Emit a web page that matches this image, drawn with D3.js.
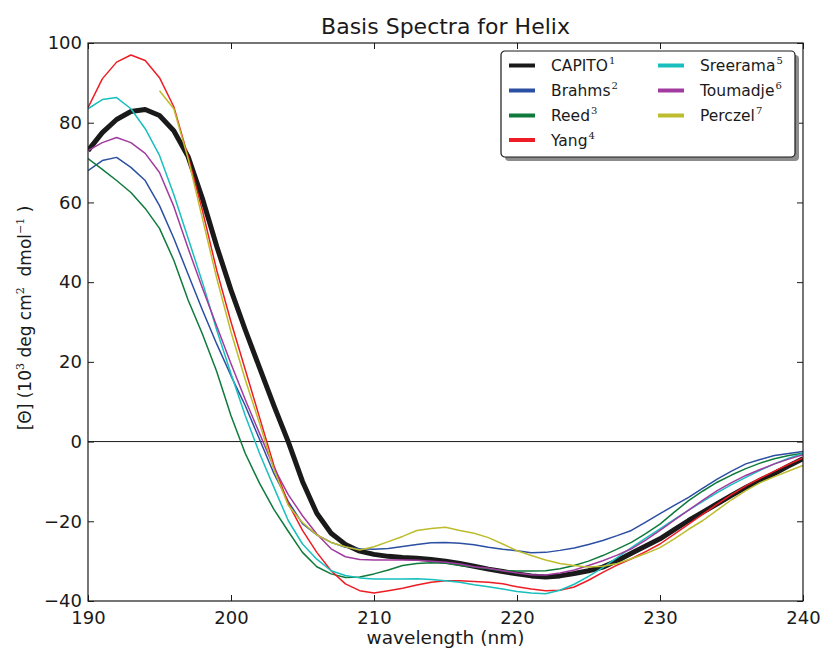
<!DOCTYPE html>
<html>
<head>
<meta charset="utf-8">
<script src="https://cdn.jsdelivr.net/npm/d3@7"></script>
<style>
  body { margin: 0; background: #fff; }
  text { font-family: "DejaVu Sans", sans-serif; fill: #1a1a1a; }
  .sup { font-family: "DejaVu Serif", serif; }
</style>
</head>
<body>
<div id="chart"></div>
<script>
'use strict'

var width = 827
var height = 650

// wavelength grid (nm)
var wavelengths = [190, 191, 192, 193, 194, 195, 196, 197, 198, 199,
  200, 201, 202, 203, 204, 205, 206, 207, 208, 209,
  210, 211, 212, 213, 214, 215, 216, 217, 218, 219,
  220, 221, 222, 223, 224, 225, 226, 227, 228, 229,
  230, 231, 232, 233, 234, 235, 236, 237, 238, 239, 240]

var capito = [73, 77.5, 80.8, 82.8, 83.3, 81.8, 78, 71.5, 61, 49,
  38, 28, 18.5, 9, 0, -10, -18, -23, -25.8, -27.5,
  -28.3, -28.8, -29.1, -29.3, -29.6, -30, -30.6, -31.3, -32, -32.6,
  -33.2, -33.7, -34, -33.7, -33.1, -32.4, -31.5, -29.9, -28, -26.2,
  -24.4, -22.1, -19.8, -17.7, -15.6, -13.5, -11.5, -9.7, -8, -6.1, -4.3]

var brahms = [68, 70.5, 71.3, 68.8, 65.5, 59.2, 51, 42, 33, 24.5,
  16.5, 9, 0.5, -8, -15, -20.6, -23.4, -25.3, -26.5, -26.9,
  -27, -26.8, -26.3, -25.8, -25.4, -25.3, -25.5, -25.9, -26.5, -27,
  -27.4, -27.9, -27.8, -27.3, -26.7, -25.8, -24.8, -23.6, -22.3, -20.2,
  -18.1, -16, -14, -11.7, -9.4, -7.4, -5.6, -4.5, -3.5, -3, -2.5]

var reed = [71, 68.3, 65.5, 62.5, 58.5, 53.5, 45.5, 35.5, 27, 17.6,
  6.5, -3, -10.5, -17, -22.5, -27.8, -31.4, -33.2, -34.1, -34,
  -33.2, -32.2, -31.1, -30.6, -30.4, -30.5, -31.1, -31.5, -31.9, -32.4,
  -32.5, -32.5, -32.4, -31.9, -31.1, -30, -28.6, -27, -25.3, -23.1,
  -20.7, -17.7, -14.8, -12.4, -10.2, -8.4, -6.8, -5.4, -4.3, -3.5, -2.9]

var yang = [83.8, 91, 95.2, 97, 95.6, 91.3, 84, 71.5, 58, 43,
  30, 18, 6, -6, -15.5, -22.3, -27.8, -32.4, -35.7, -37.4,
  -38, -37.4, -36.8, -36, -35.3, -34.9, -34.9, -35.1, -35.3, -35.7,
  -36.4, -37, -37.4, -37.3, -36.5, -34.8, -32.8, -31, -29.4, -27.6,
  -25.7, -23.2, -20.7, -18.2, -15.7, -13.3, -11.1, -9.2, -7.4, -5.7, -4.1]

var sreerama = [83.5, 85.8, 86.3, 83.5, 78.5, 71.8, 62, 51, 40, 28,
  17, 6.5, -3, -11.5, -19.8, -25.7, -29.5, -32.4, -33.6, -34.2,
  -34.5, -34.5, -34.5, -34.4, -34.6, -34.9, -35.3, -35.9, -36.4, -37,
  -37.6, -38, -38.2, -37.3, -35.8, -33.8, -31.6, -29.1, -26.6, -24.2,
  -21.9, -19.5, -17.2, -15, -12.8, -10.8, -9, -7.2, -5.6, -4.2, -3]

var toumadje = [73, 75, 76.3, 75, 72.3, 67.5, 59, 48.5, 38.5, 29,
  19.5, 10.5, 2, -6.5, -13.3, -18.6, -23.2, -26.9, -28.9, -29.6,
  -29.7, -29.7, -29.7, -29.8, -30, -30.3, -30.7, -31.4, -31.8, -32.4,
  -33, -33.4, -33.5, -33, -32.2, -31.1, -29.9, -28.5, -26.9, -24.7,
  -22.3, -19.7, -17.2, -14.7, -12.3, -10.3, -8.5, -7, -5.6, -4.4, -3.3]

// Perczel starts at 195 nm
var perczel = [null, null, null, null, null, 88, 83.5, 71, 56, 41,
  27.5, 15.5, 4.5, -7, -16, -20.3, -23.4, -25.3, -26.4, -27.2,
  -26.4, -25.1, -23.8, -22.3, -21.8, -21.5, -22.3, -23, -24.1, -25.7,
  -27.4, -28.6, -29.7, -30.6, -31.1, -31.5, -31.3, -30.6, -29.4, -28.1,
  -26.6, -24.4, -22, -19.8, -17.2, -14.6, -12.3, -10.3, -8.8, -7.4, -6]

var xTicks = [190, 200, 210, 220, 230, 240]
var yTicks = [-40, -20, 0, 20, 40, 60, 80, 100]

// drawing order = matplotlib plot order (CAPITO first, under the rest)
var series = [
  { name: 'CAPITO', sup: '1', values: capito, color: '#1a1a1a', width: 5 },
  { name: 'Brahms', sup: '2', values: brahms, color: '#2b4fa3', width: 1.5 },
  { name: 'Reed', sup: '3', values: reed, color: '#0f7a3c', width: 1.5 },
  { name: 'Yang', sup: '4', values: yang, color: '#ee1c24', width: 1.5 },
  { name: 'Sreerama', sup: '5', values: sreerama, color: '#19bfbf', width: 1.5 },
  { name: 'Toumadje', sup: '6', values: toumadje, color: '#a23ba0', width: 1.5 },
  { name: 'Perczel', sup: '7', values: perczel, color: '#bcbc2c', width: 1.5 }
]

var margin = { top: 43, right: 24, bottom: 49, left: 88 }
var innerW = width - margin.left - margin.right
var innerH = height - margin.top - margin.bottom

var svg = d3.select('#chart').append('svg')
  .attr('width', width)
  .attr('height', height)

var g = svg.append('g')
  .attr('transform', 'translate(' + margin.left + ',' + margin.top + ')')

var x = d3.scaleLinear().domain([190, 240]).range([0, innerW])
var y = d3.scaleLinear().domain([-40, 100]).range([innerH, 0])

g.append('clipPath').attr('id', 'plotclip')
  .append('rect').attr('width', innerW).attr('height', innerH)

// zero line
g.append('line')
  .attr('x1', 0).attr('x2', innerW)
  .attr('y1', y(0)).attr('y2', y(0))
  .attr('stroke', '#1a1a1a').attr('stroke-width', 1)

var line = d3.line()
  .defined(d => d[1] !== null)
  .x(d => x(d[0]))
  .y(d => y(d[1]))

g.append('g').attr('clip-path', 'url(#plotclip)')
  .selectAll('path')
  .data(series)
  .join('path')
  .attr('fill', 'none')
  .attr('stroke', d => d.color)
  .attr('stroke-width', d => d.width)
  .attr('stroke-linejoin', 'round')
  .attr('d', d => line(wavelengths.map((w, i) => [w, d.values[i]])))

// axes, ticks pointing inward like classic matplotlib
var tickLen = 6
var styleAxis = function (sel) {
  sel.select('.domain').remove()
  sel.selectAll('line').attr('stroke', '#1a1a1a')
  sel.selectAll('text').attr('font-size', 18).attr('fill', '#1a1a1a')
    .attr('font-family', '"DejaVu Sans", sans-serif')
}

g.append('g')
  .attr('transform', 'translate(0,' + innerH + ')')
  .call(d3.axisBottom(x).tickValues(xTicks).tickSize(-tickLen).tickPadding(10))
  .call(styleAxis)

g.append('g')
  .call(d3.axisTop(x).tickValues(xTicks).tickSize(-tickLen).tickFormat(''))
  .call(styleAxis)

g.append('g')
  .call(d3.axisLeft(y).tickValues(yTicks).tickSize(-tickLen).tickPadding(6))
  .call(styleAxis)

g.append('g')
  .attr('transform', 'translate(' + innerW + ',0)')
  .call(d3.axisRight(y).tickValues(yTicks).tickSize(-tickLen).tickFormat(''))
  .call(styleAxis)

// frame
g.append('rect')
  .attr('width', innerW).attr('height', innerH)
  .attr('fill', 'none').attr('stroke', '#1a1a1a').attr('stroke-width', 1.2)

// title and axis labels
svg.append('text')
  .attr('x', margin.left + innerW / 2).attr('y', 34)
  .attr('text-anchor', 'middle').attr('font-size', 22)
  .text('Basis Spectra for Helix')

svg.append('text')
  .attr('x', margin.left + innerW / 2).attr('y', 644)
  .attr('text-anchor', 'middle').attr('font-size', 18.5)
  .text('wavelength (nm)')

var ylab = svg.append('text')
  .attr('transform', 'translate(31,' + (margin.top + innerH / 2 - 4) + ') rotate(-90)')
  .attr('text-anchor', 'middle').attr('font-size', 17)
ylab.append('tspan').text('[\u0398] (10')
ylab.append('tspan').attr('class', 'sup').attr('font-size', 11).attr('dy', -7).text('3')
ylab.append('tspan').attr('dy', 7).text(' deg cm')
ylab.append('tspan').attr('class', 'sup').attr('font-size', 11).attr('dy', -7).text('2')
ylab.append('tspan').attr('dy', 7).text('\u00a0 dmol')
ylab.append('tspan').attr('class', 'sup').attr('font-size', 11).attr('dy', -7).text('\u22121')
ylab.append('tspan').attr('dy', 7).text(' )')

// legend
var lg = svg.append('g').attr('transform', 'translate(501,51)')
var lgW = 294
var lgH = 106
lg.append('rect')
  .attr('x', 4).attr('y', 4).attr('width', lgW).attr('height', lgH)
  .attr('rx', 4).attr('fill', '#8c8c8c')
lg.append('rect')
  .attr('width', lgW).attr('height', lgH).attr('rx', 4)
  .attr('fill', '#fff').attr('stroke', '#1a1a1a').attr('stroke-width', 1.2)

var rowY = [14.5, 39.5, 64.5, 89]
var colX = [8, 157]
var items = lg.selectAll('g.item')
  .data(series)
  .join('g')
  .attr('class', 'item')
  .attr('transform', (d, i) => 'translate(' + colX[i < 4 ? 0 : 1] + ',' + rowY[i < 4 ? i : i - 4] + ')')

items.append('line')
  .attr('x1', 0).attr('x2', 26)
  .attr('stroke', d => d.color).attr('stroke-width', 4)

var itemText = items.append('text')
  .attr('x', 42).attr('dy', '0.36em').attr('font-size', 15.5)
itemText.append('tspan').text(d => d.name)
itemText.append('tspan').attr('class', 'sup').attr('font-size', 10)
  .attr('dy', -7).attr('dx', 1).text(d => d.sup)
</script>
</body>
</html>
